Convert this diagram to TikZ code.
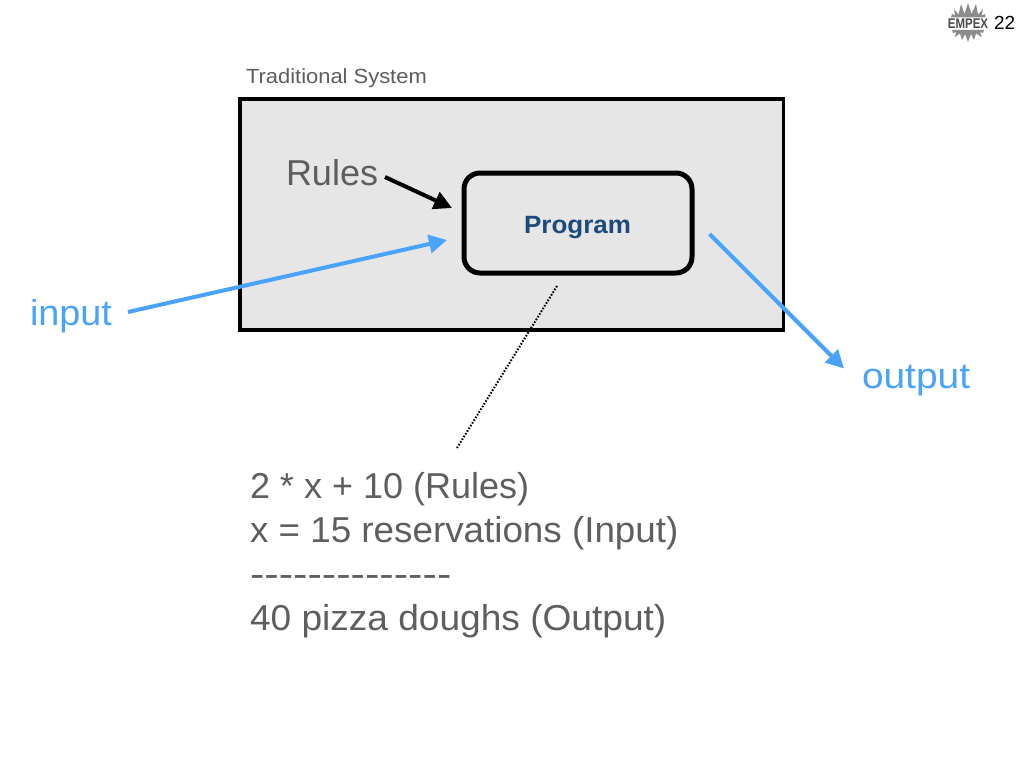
\documentclass[tikz,border=0pt]{standalone}
\usepackage{graphicx}
\usepackage{fontspec}
\setmainfont{Liberation Sans}
\usetikzlibrary{arrows.meta}
\definecolor{graytxt}{HTML}{5E5E5E}
\definecolor{boxfill}{HTML}{E6E6E6}
\definecolor{bluearrow}{HTML}{4AA3FB}
\definecolor{navy}{HTML}{1C4A7C}
\definecolor{logogray}{HTML}{8C8C8C}
\definecolor{logodark}{HTML}{4A4A4A}
\tikzset{
  lbl/.style={anchor=base west,inner sep=0pt,outer sep=0pt},
  bigtxt/.style={lbl,text=graytxt,font=\fontsize{36}{42}\selectfont},
  bluelink/.style={draw=bluearrow,line width=4pt,-{Triangle[length=18pt,width=18pt]}},
  blacklink/.style={draw=black,line width=4pt,-{Triangle[length=18pt,width=18pt]}},
}
\begin{document}
\begin{tikzpicture}[x=1pt,y=-1pt]
\useasboundingbox (0,0) rectangle (1024,768);
\fill[white] (0,0) rectangle (1024,768);
% outer system box
\node[lbl,text=graytxt,font=\fontsize{20.5}{24}\selectfont] (title) at (246,83) {\scalebox{1.07}[1]{Traditional System}};
\draw[fill=boxfill,line width=3.8pt] (240.3,99.2) rectangle (783.4,330);
\node[draw,line width=5pt,rounded corners=16pt,minimum width=228pt,minimum height=100pt,inner sep=0pt,anchor=center] (program) at (578,223) {};
\node[anchor=base,text=navy,font=\fontsize{25}{28}\selectfont\bfseries,inner sep=0pt] (progtxt) at (577.5,233) {\scalebox{1.04}[1]{Program}};
\node[bigtxt] (rules) at (286,185) {Rules};
\node[bigtxt,text=bluearrow] (input) at (30,325) {\scalebox{1.05}[1]{input}};
\node[bigtxt,text=bluearrow] (output) at (862,388) {\scalebox{1.08}[1]{output}};
% connector ends
\coordinate (rulesA) at (385,177);
\coordinate (rulesB) at (452,208);
\coordinate (inA) at (128,312);
\coordinate (inB) at (447,240);
\coordinate (outA) at (709.5,234);
\coordinate (outB) at (844,368.5);
\coordinate (dotA) at (557,286);
\coordinate (dotB) at (457,448);
\draw[blacklink] (rulesA) -- (rulesB);
\draw[bluelink] (inA) -- (inB);
\draw[bluelink] (outA) -- (outB);
\draw[line width=2pt,dash pattern=on 1.6pt off 1.6pt] (dotA) -- (dotB);
% text block
\node[bigtxt] (l1) at (250,498) {2 * x + 10 (Rules)};
\node[bigtxt] (l2) at (250,542) {\scalebox{1.022}[1]{x = 15 reservations (Input)}};
\node[bigtxt] (l3) at (250,586) {\scalebox{1.2}[1]{{-}{-}{-}{-}{-}{-}{-}{-}{-}{-}{-}{-}{-}{-}}};
\node[bigtxt] (l4) at (250,630) {\scalebox{1.03}[1]{40 pizza doughs (Output)}};
% logo
\fill[logogray] (951,17.5) -- (952,14) -- (955,15.5) -- (954,9) -- (958.5,14.5) -- (961,4) -- (964.5,14) -- (968,3) -- (971.5,14) -- (976,4) -- (978,14.5) -- (983,9) -- (981.5,15.5) -- (985,14) -- (985.5,17.5) -- cycle;
\fill[logogray] (952,30) -- (984,30) -- (983,33) -- (980,32) -- (982,37) -- (976,33.5) -- (974,40) -- (971,34) -- (968,42) -- (965,34) -- (962,40) -- (960,33.5) -- (955,37) -- (956,32) -- (953,33) -- cycle;
\node[anchor=base,text=logodark,font=\fontsize{14}{14}\selectfont\bfseries,inner sep=0pt] (logo) at (968,29) {\scalebox{0.82}[1]{EMPEX}};
\node[lbl,text=black,font=\fontsize{19}{20}\selectfont] (page) at (994,30) {22};
\end{tikzpicture}
\end{document}
